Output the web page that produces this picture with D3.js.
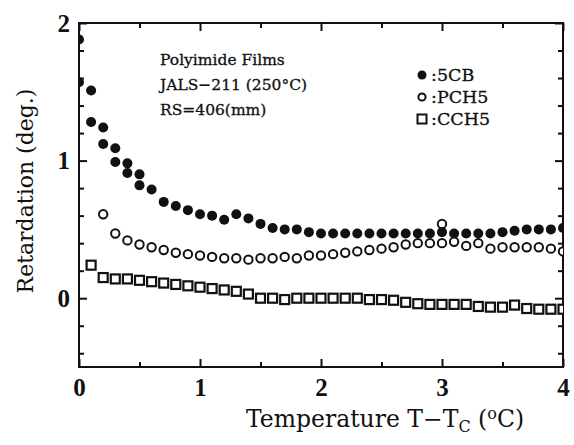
<!DOCTYPE html>
<html>
<head>
<meta charset="utf-8">
<script src="https://cdn.jsdelivr.net/npm/d3@7"></script>
<style>
  body { margin: 0; background: #fff; }
  svg text { font-family: "DejaVu Serif", "Liberation Serif", serif; fill: #111; }
</style>
</head>
<body>
<div id="chart"></div>
<script>
// ---- data: [T - Tc (degC), retardation (deg.)] ----
var cb5 = [
  [0, 1.88], [0, 1.57],
  [0.1, 1.51], [0.1, 1.28], [0.2, 1.24], [0.2, 1.12], [0.3, 1.09], [0.3, 0.99],
  [0.4, 0.98], [0.4, 0.91], [0.5, 0.90], [0.5, 0.82], [0.6, 0.79], [0.7, 0.70],
  [0.8, 0.67], [0.9, 0.64], [1.0, 0.61], [1.1, 0.60], [1.2, 0.57], [1.3, 0.61],
  [1.4, 0.58], [1.5, 0.54], [1.6, 0.51], [1.7, 0.50], [1.8, 0.50], [1.9, 0.48],
  [2.0, 0.47], [2.1, 0.47], [2.2, 0.47], [2.3, 0.47], [2.4, 0.47], [2.5, 0.47],
  [2.6, 0.47], [2.7, 0.47], [2.8, 0.47], [2.9, 0.47], [3.0, 0.48], [3.1, 0.47],
  [3.2, 0.47], [3.3, 0.47], [3.4, 0.47], [3.5, 0.48], [3.6, 0.49], [3.7, 0.50],
  [3.8, 0.50], [3.9, 0.50], [4.0, 0.51]
];
var pch5 = [
  [0.2, 0.61], [0.3, 0.47], [0.4, 0.42], [0.5, 0.39], [0.6, 0.37], [0.7, 0.35],
  [0.8, 0.33], [0.9, 0.32], [1.0, 0.31], [1.1, 0.30], [1.2, 0.29], [1.3, 0.29],
  [1.4, 0.28], [1.5, 0.29], [1.6, 0.29], [1.7, 0.30], [1.8, 0.29], [1.9, 0.31],
  [2.0, 0.31], [2.1, 0.32], [2.2, 0.33], [2.3, 0.34], [2.4, 0.35], [2.5, 0.36],
  [2.6, 0.37], [2.7, 0.39], [2.8, 0.40], [2.9, 0.40], [3.0, 0.40], [3.0, 0.54],
  [3.1, 0.41], [3.2, 0.38], [3.3, 0.40], [3.4, 0.36], [3.5, 0.37], [3.6, 0.37],
  [3.7, 0.37], [3.8, 0.37], [3.9, 0.36], [4.0, 0.34]
];
var cch5 = [
  [0.1, 0.24], [0.2, 0.15], [0.3, 0.14], [0.4, 0.14], [0.5, 0.13], [0.6, 0.12],
  [0.7, 0.11], [0.8, 0.10], [0.9, 0.09], [1.0, 0.08], [1.1, 0.07], [1.2, 0.06],
  [1.3, 0.05], [1.4, 0.03], [1.5, 0.00], [1.6, 0.00], [1.7, -0.01], [1.8, 0.00],
  [1.9, 0.00], [2.0, 0.00], [2.1, 0.00], [2.2, 0.00], [2.3, 0.00], [2.4, -0.01],
  [2.5, -0.01], [2.6, -0.015], [2.7, -0.03], [2.8, -0.04], [2.9, -0.045], [3.0, -0.045],
  [3.1, -0.045], [3.2, -0.045], [3.3, -0.06], [3.4, -0.065], [3.5, -0.065], [3.6, -0.05],
  [3.7, -0.075], [3.8, -0.08], [3.9, -0.08], [4.0, -0.08]
];

var xMajor = [0, 1, 2, 3, 4],
    xMinor = [0.5, 1.5, 2.5, 3.5],
    yMajor = [0, 1, 2],
    yMinor = [-0.4, -0.2, 0.2, 0.4, 0.6, 0.8, 1.2, 1.4, 1.6, 1.8];

var annotation = ["Polyimide Films", "JALS\u2212211 (250\u00B0C)", "RS=406(mm)"];
var legendNames = [":5CB", ":PCH5", ":CCH5"];

// ---- layout ----
var width = 574, height = 445,
    margin = {top: 23, right: 11, bottom: 78, left: 79};

var x = d3.scaleLinear().domain([0, 4]).range([margin.left, width - margin.right]);
var y = d3.scaleLinear().domain([-0.5, 2]).range([height - margin.bottom, margin.top]);

var svg = d3.select("#chart").append("svg")
    .attr("width", width)
    .attr("height", height);

svg.append("defs").append("clipPath").attr("id", "plotclip")
  .append("rect")
    .attr("x", x(0)).attr("y", y(2))
    .attr("width", x(4) - x(0)).attr("height", y(-0.5) - y(2));

// frame
svg.append("rect")
    .attr("x", x(0)).attr("y", y(2))
    .attr("width", x(4) - x(0)).attr("height", y(-0.5) - y(2))
    .attr("fill", "none").attr("stroke", "#111").attr("stroke-width", 2);

// inward ticks on all four sides
function tickAxis(axisFn, scale, values, len, pos, label) {
  var g = svg.append("g")
      .attr("transform", pos)
      .call(axisFn(scale).tickValues(values).tickSizeInner(-len).tickSizeOuter(0)
            .tickPadding(label ? 12 : 0).tickFormat(label ? d3.format("d") : ""));
  g.select(".domain").remove();
  g.selectAll(".tick line").attr("stroke", "#111").attr("stroke-width", 2);
  return g;
}

var xb = tickAxis(d3.axisBottom, x, xMajor, 8, "translate(0," + y(-0.5) + ")", true);
tickAxis(d3.axisBottom, x, xMinor, 5, "translate(0," + y(-0.5) + ")", false);
tickAxis(d3.axisTop, x, xMajor, 8, "translate(0," + y(2) + ")", false);
tickAxis(d3.axisTop, x, xMinor, 5, "translate(0," + y(2) + ")", false);
var yl = tickAxis(d3.axisLeft, y, yMajor, 8, "translate(" + x(0) + ",0)", true);
tickAxis(d3.axisLeft, y, yMinor, 5, "translate(" + x(0) + ",0)", false);
tickAxis(d3.axisRight, y, yMajor, 8, "translate(" + x(4) + ",0)", false);
tickAxis(d3.axisRight, y, yMinor, 5, "translate(" + x(4) + ",0)", false);

[xb, yl].forEach(function(g) {
  g.selectAll(".tick text")
      .style("font-family", "'Liberation Serif', serif")
      .style("font-size", "25px")
      .style("font-weight", "bold")
      .attr("fill", "#111");
});
yl.selectAll(".tick text").attr("dx", "3px");
xb.selectAll(".tick text").attr("dy", "0.68em");

// markers
var plot = svg.append("g").attr("clip-path", "url(#plotclip)");

plot.selectAll("circle.cb5").data(cb5).enter().append("circle")
    .attr("class", "cb5")
    .attr("cx", function(d) { return x(d[0]); })
    .attr("cy", function(d) { return y(d[1]); })
    .attr("r", 5)
    .attr("fill", "#111");

plot.selectAll("circle.pch5").data(pch5).enter().append("circle")
    .attr("class", "pch5")
    .attr("cx", function(d) { return x(d[0]); })
    .attr("cy", function(d) { return y(d[1]); })
    .attr("r", 4.2)
    .attr("fill", "#fff")
    .attr("stroke", "#111").attr("stroke-width", 2);

plot.selectAll("rect.cch5").data(cch5).enter().append("rect")
    .attr("class", "cch5")
    .attr("x", function(d) { return x(d[0]) - 4.5; })
    .attr("y", function(d) { return y(d[1]) - 4.5; })
    .attr("width", 9).attr("height", 9)
    .attr("fill", "#fff")
    .attr("stroke", "#111").attr("stroke-width", 2.2);

// annotation block
svg.append("g").selectAll("text").data(annotation).enter().append("text")
    .attr("x", 160)
    .attr("y", function(d, i) { return 65 + i * 25; })
    .style("font-size", "15.5px")
    .attr("stroke", "#111").attr("stroke-width", 0.3)
    .text(function(d) { return d; });

// legend
var leg = svg.append("g").attr("transform", "translate(422,75)");
var rows = leg.selectAll("g").data(legendNames).enter().append("g")
    .attr("transform", function(d, i) { return "translate(0," + i * 22 + ")"; });
rows.filter(function(d, i) { return i === 0; }).append("circle")
    .attr("r", 4.5).attr("fill", "#111");
rows.filter(function(d, i) { return i === 1; }).append("circle")
    .attr("r", 3.6).attr("fill", "#fff").attr("stroke", "#111").attr("stroke-width", 2);
rows.filter(function(d, i) { return i === 2; }).append("rect")
    .attr("x", -4.5).attr("y", -4.5).attr("width", 9).attr("height", 9)
    .attr("fill", "#fff").attr("stroke", "#111").attr("stroke-width", 2);
rows.append("text")
    .attr("x", 9).attr("y", 6)
    .style("font-size", "17.5px")
    .attr("stroke", "#111").attr("stroke-width", 0.3)
    .text(function(d) { return d; });

// axis titles
var xt = svg.append("text")
    .attr("x", 385).attr("y", 427)
    .attr("text-anchor", "middle")
    .style("font-size", "23.5px");
xt.append("tspan").text("Temperature T\u2212T");
xt.append("tspan").attr("dy", 5).style("font-size", "16px").text("C");
xt.append("tspan").attr("dy", -5).text(" (");
xt.append("tspan").attr("dy", -8).style("font-size", "16px").text("o");
xt.append("tspan").attr("dy", 8).text("C)");

svg.append("text")
    .attr("transform", "translate(33,191) rotate(-90)")
    .attr("text-anchor", "middle")
    .style("font-size", "22px")
    .text("Retardation (deg.)");
</script>
</body>
</html>
